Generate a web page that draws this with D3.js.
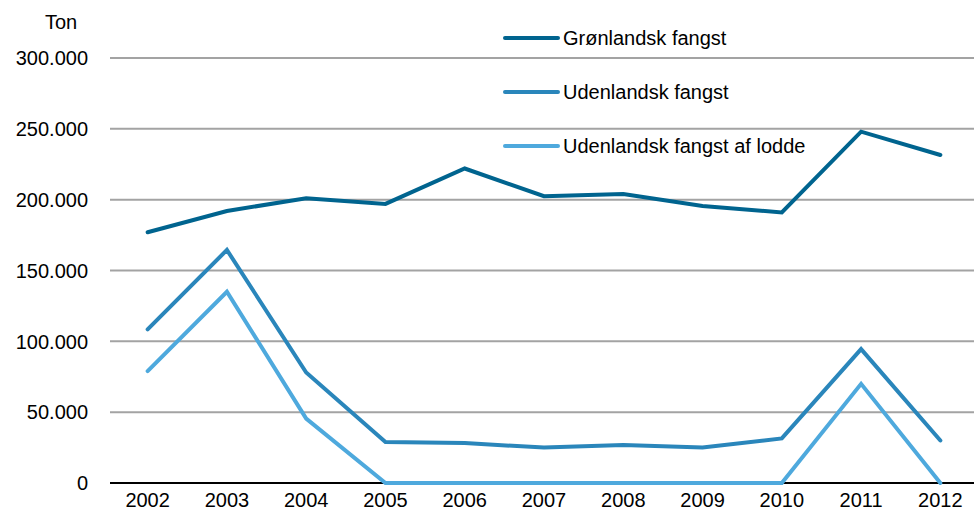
<!DOCTYPE html>
<meta charset="utf-8">
<script src="https://d3js.org/d3.v7.min.js"></script>
<style>
  body { margin: 0; background: #fff; }
  text { font-family: "Liberation Sans", Arial, sans-serif; fill: #000; }
</style>
<div id="chart"></div>
<script>
// data
var years = ["2002","2003","2004","2005","2006","2007","2008","2009","2010","2011","2012"];
var gronlandsk = [177000, 192000, 201000, 197000, 222000, 202500, 204000, 195500, 191000, 248000, 231500];
var udenlandsk = [108500, 164500, 78000, 29000, 28200, 25000, 26800, 25000, 31500, 94500, 30000];
var lodde      = [79000, 135000, 45500, 0, 0, 0, 0, 0, 0, 70000, 0];
var seriesNames = ["Grønlandsk fangst", "Udenlandsk fangst", "Udenlandsk fangst af lodde"];
var colors = ["#00648f", "#2a86bb", "#4ea9dd"];
var yTicks = [0, 50000, 100000, 150000, 200000, 250000, 300000];

var W = 974, H = 523;
var margin = {top: 58, right: 0, bottom: 40, left: 110};

var svg = d3.select("#chart").append("svg")
  .attr("width", W).attr("height", H);

var x = d3.scaleBand()
  .domain(years)
  .range([margin.left - 2, W + 6]);

var y = d3.scaleLinear()
  .domain([0, 300000])
  .range([H - margin.bottom, margin.top]);

var fmt = function(d) { return d === 0 ? "0" : d3.format(",")(d).replace(/,/g, "."); };

// gridlines
svg.append("g")
  .selectAll("line")
  .data(yTicks.filter(function(d) { return d > 0; }))
  .join("line")
    .attr("x1", margin.left).attr("x2", W)
    .attr("y1", function(d) { return y(d); })
    .attr("y2", function(d) { return y(d); })
    .attr("stroke", "#a3a3a3")
    .attr("stroke-width", 2);

// zero line
svg.append("line")
  .attr("x1", margin.left).attr("x2", W)
  .attr("y1", y(0)).attr("y2", y(0))
  .attr("stroke", "#000").attr("stroke-width", 2);

// y labels
svg.append("g")
  .selectAll("text")
  .data(yTicks)
  .join("text")
    .attr("x", 88)
    .attr("y", function(d) { return y(d); })
    .attr("dy", "0.36em")
    .attr("text-anchor", "end")
    .style("font-size", "20px")
    .text(fmt);

svg.append("text")
  .attr("x", 61).attr("y", 29)
  .attr("text-anchor", "middle")
  .style("font-size", "20px")
  .text("Ton");

// x labels
svg.append("g")
  .selectAll("text")
  .data(years)
  .join("text")
    .attr("x", function(d) { return x(d) + x.bandwidth() / 2; })
    .attr("y", 507)
    .attr("text-anchor", "middle")
    .style("font-size", "20px")
    .text(function(d) { return d; });

// lines
var allSeries = [gronlandsk, udenlandsk, lodde];
var line = d3.line()
  .x(function(d, i) { return x(years[i]) + x.bandwidth() / 2; })
  .y(function(d) { return y(d); });

// draw lodde first so it sits on top of the zero line but under others
svg.append("g")
  .selectAll("path")
  .data(allSeries.map(function(v, i) { return {v: v, c: colors[i]}; }).reverse())
  .join("path")
    .attr("d", function(d) { return line(d.v); })
    .attr("fill", "none")
    .attr("stroke", function(d) { return d.c; })
    .attr("stroke-width", 4)
    .attr("stroke-linejoin", "miter")
    .attr("stroke-linecap", "round");

// legend
var legend = svg.append("g")
  .selectAll("g")
  .data(seriesNames)
  .join("g")
    .attr("transform", function(d, i) { return "translate(503," + (38 + i * 54) + ")"; });

legend.append("line")
  .attr("x1", 2).attr("x2", 55)
  .attr("stroke", function(d, i) { return colors[i]; })
  .attr("stroke-width", 4)
  .attr("stroke-linecap", "round");

legend.append("text")
  .attr("x", 60)
  .attr("dy", "0.36em")
  .style("font-size", "20px")
  .text(function(d) { return d; });
</script>
